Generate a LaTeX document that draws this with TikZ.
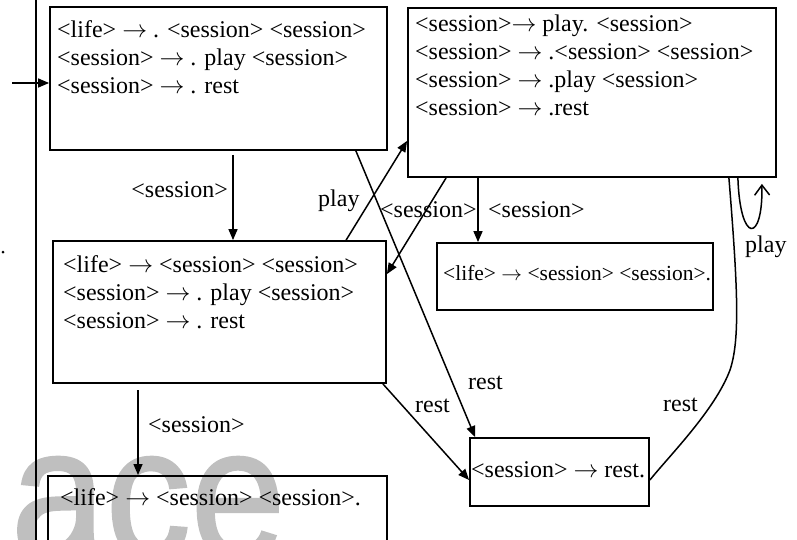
\documentclass[tikz,border=0pt]{standalone}
\usepackage{fontspec}
\setmainfont{Liberation Serif}
\newfontfamily\wmfont[FakeBold=1.5]{Liberation Sans}
\usetikzlibrary{arrows.meta}
% production arrow, one em wide
\newcommand\prodarrow{\ensuremath{\rightarrow}}
\begin{document}
\begin{tikzpicture}[x=1pt,y=-1pt,
  box/.style={draw, line width=1.8pt, inner sep=0pt},
  txt/.style={inner sep=0pt, anchor=base west, font=\fontsize{24}{28}\selectfont},
  smalltxt/.style={inner sep=0pt, anchor=base west, font=\fontsize{21.5}{25}\selectfont},
  conn/.style={line width=1.5pt},
  arr/.style={conn, -{Triangle[length=11pt,width=9pt]}},
  openarr/.style={conn, -{Straight Barb[length=10pt,width=15pt,line width=1.5pt]}},
]
\useasboundingbox (0,0) rectangle (797,540);

% watermark lettering behind everything, slightly stretched upward
\begin{scope}[yscale=1.1]
\node[inner sep=0pt, anchor=base west, text=black!25, transform shape,
      font=\wmfont\fontsize{170}{170}\selectfont] (wm) at (11,507) {ace};
\end{scope}

% left margin rule and the stray dot
\coordinate (rtop) at (36,0);
\coordinate (rbot) at (36,540);
\draw[line width=1.8pt] (rtop) -- (rbot);
\node[circle, fill, inner sep=0pt, minimum size=3pt] (dot) at (3,252) {};

% item-set boxes
\node[box, minimum width=337pt, minimum height=143pt] (A) at (218.5,78.5) {};
\node[box, minimum width=368pt, minimum height=169pt] (B) at (592,92.5) {};
\node[box, minimum width=333pt, minimum height=142pt] (C) at (219.5,312) {};
\node[box, minimum width=339pt, minimum height=110pt, anchor=north west] (D) at (47,475) {};
\node[box, minimum width=276pt, minimum height=67pt] (E) at (575,276.5) {};
\node[box, minimum width=179pt, minimum height=68pt] (F) at (559.5,472) {};

% box contents
\node[txt] (Atext) at (57,38) {\begin{tabular}[t]{@{}l@{}}
<life> \prodarrow{} . <session> <session>\\
<session> \prodarrow{} . play <session>\\
<session> \prodarrow{} . rest
\end{tabular}};
\node[txt] (Btext) at (415,32) {\begin{tabular}[t]{@{}l@{}}
<session>\prodarrow{} play. <session>\\
<session> \prodarrow{} .<session> <session>\\
<session> \prodarrow{} .play <session>\\
<session> \prodarrow{} .rest
\end{tabular}};
\node[txt] (Ctext) at (63,272.5) {\begin{tabular}[t]{@{}l@{}}
<life> \prodarrow{} <session> <session>\\
<session> \prodarrow{} . play <session>\\
<session> \prodarrow{} . rest
\end{tabular}};
\node[txt] (Dtext) at (60,505) {<life> \prodarrow{} <session> <session>.};
\node[smalltxt] (Etext) at (443,280) {<life> \prodarrow{} <session> <session>.};
\node[txt] (Ftext) at (471,477) {<session> \prodarrow{} rest.};

% start arrow
\coordinate (entry) at (12,83);
\draw[arr] (entry) -- (entry -| A.west);

% transitions
\coordinate (a1) at (233,155);
\draw[arr] (a1) -- (a1 |- C.north);
\node[txt, anchor=base east] (lAC) at (228,197) {<session>};

\coordinate (c1) at (138,390);
\draw[arr] (c1) -- (c1 |- D.north);
\node[txt] (lCD) at (148,432) {<session>};

\draw[arr] ([xshift=294pt]C.north west) -- ([yshift=37pt]B.south west);
\node[txt] (lCB) at (318,207) {play};

\draw[arr] ([xshift=39pt]B.south west) -- ([yshift=-34pt]C.north east);
\node[txt] (lBC) at (380,217) {<session>};

\coordinate (b3) at (478,177);
\draw[arr] (b3) -- (b3 |- E.north);
\node[txt] (lBE) at (488,217) {<session>};

\draw[arr] ([xshift=-32pt]A.south east) -- ([xshift=6pt]F.north west);
\node[txt] (lAF) at (468,389) {rest};

\draw[arr] ([xshift=-4pt]C.south east) -- ([yshift=-8pt]F.west);
\node[txt] (lCF) at (415,412) {rest};

\draw[conn] ([xshift=-48pt]B.south east) .. controls (738,290) and (740,340) .. (730,370)
  .. controls (715,410) and (670,455) .. ([yshift=-8pt]F.east);
\node[txt] (lBF) at (663,411) {rest};

\draw[openarr] ([xshift=-39pt]B.south east) .. controls (740,244) and (763,244) .. ([xshift=-15pt,yshift=-6pt]B.south east);
\node[txt] (lBB) at (745,252) {play};
\end{tikzpicture}
\end{document}
